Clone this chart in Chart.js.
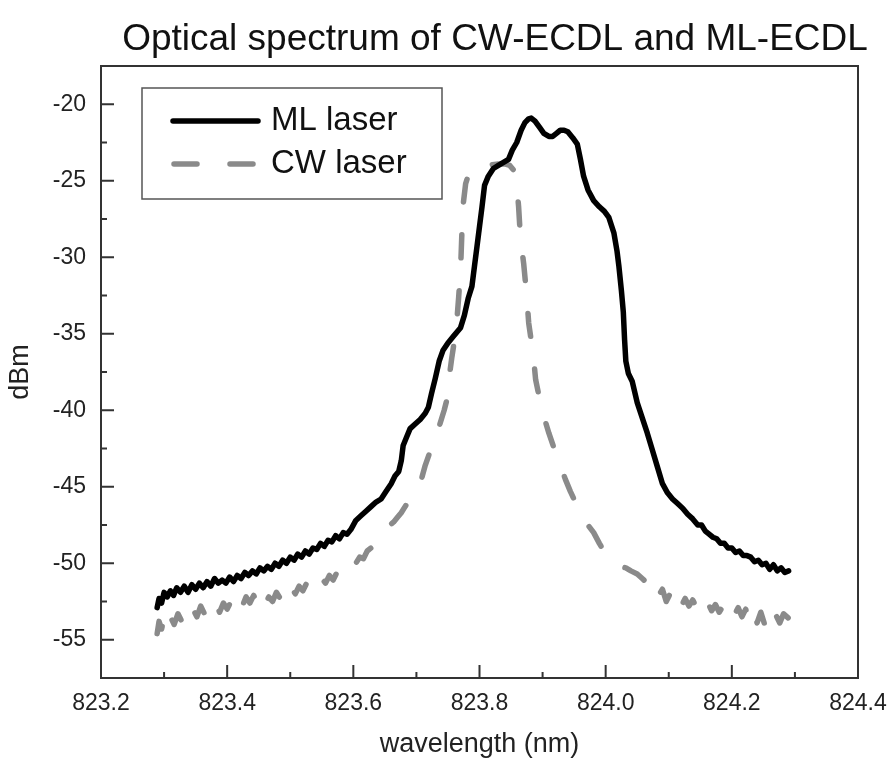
<!DOCTYPE html>
<html><head><meta charset="utf-8">
<script src="https://cdn.jsdelivr.net/npm/chart.js@4.4.1/dist/chart.umd.min.js"></script>
<style>html,body{margin:0;padding:0;background:#fff;} #wrap{width:890px;height:766px;}</style>
</head><body><div id="wrap"><canvas id="c" width="890" height="766"></canvas></div>
<script>
const chartTitle = "Optical spectrum of CW-ECDL and ML-ECDL";
const xAxisTitle = "wavelength (nm)";
const yAxisTitle = "dBm";
const seriesNames = ["ML laser", "CW laser"];
const xTickValues = [823.2, 823.4, 823.6, 823.8, 824.0, 824.2, 824.4];
const yTickValues = [-55, -50, -45, -40, -35, -30, -25, -20];

const mlWavelength = [823.289,823.292,823.296,823.300,823.305,823.310,823.315,823.320,823.326,823.332,823.338,823.344,823.350,823.356,823.362,823.368,823.374,823.380,823.386,823.392,823.398,823.404,823.410,823.416,823.422,823.428,823.434,823.440,823.446,823.452,823.458,823.464,823.470,823.476,823.482,823.488,823.494,823.500,823.506,823.512,823.518,823.524,823.530,823.536,823.542,823.548,823.554,823.560,823.566,823.572,823.578,823.584,823.590,
823.596,823.604,823.612,823.620,823.628,823.636,823.644,823.652,823.660,823.666,823.672,823.676,823.679,823.684,823.690,823.698,823.706,823.714,823.719,823.724,823.730,823.736,823.742,823.750,823.758,823.764,823.770,823.776,823.782,823.788,823.792,823.796,823.800,823.804,823.808,823.814,823.822,823.830,823.838,823.846,823.852,823.859,823.866,823.872,823.878,823.882,823.888,823.895,823.902,823.910,823.916,823.922,823.928,823.934,823.940,823.948,823.955,823.960,823.965,823.972,823.981,823.990,823.998,824.005,824.013,824.018,824.021,824.025,824.028,824.030,824.032,824.036,824.042,824.050,824.058,824.066,824.074,824.082,824.090,824.098,824.106,824.114,824.122,824.130,824.138,824.146,824.152,824.158,824.164,824.170,824.176,824.182,824.188,824.194,824.200,824.206,824.212,824.218,824.224,824.230,824.236,824.242,824.248,824.254,824.260,824.266,824.272,824.278,824.284,824.290];
const mlPower = [-52.9,-52.3,-52.6,-51.9,-52.2,-51.8,-52.1,-51.6,-51.9,-51.5,-51.9,-51.4,-51.7,-51.3,-51.6,-51.2,-51.5,-51.0,-51.3,-51.1,-51.3,-50.9,-51.2,-50.8,-51.0,-50.6,-50.8,-50.5,-50.7,-50.3,-50.5,-50.2,-50.4,-50.0,-50.2,-49.8,-50.0,-49.6,-49.8,-49.4,-49.6,-49.2,-49.4,-49.0,-49.1,-48.7,-48.9,-48.5,-48.6,-48.2,-48.4,-48.0,-48.1,
-47.8,-47.2,-46.9,-46.6,-46.3,-46.0,-45.8,-45.3,-44.8,-44.3,-44.0,-43.3,-42.3,-41.8,-41.2,-40.9,-40.6,-40.2,-39.8,-38.9,-37.9,-36.8,-36.1,-35.6,-35.2,-34.9,-34.6,-33.8,-32.7,-31.9,-30.6,-29.3,-28.0,-26.7,-25.3,-24.7,-24.2,-24.0,-23.8,-23.6,-23.0,-22.5,-21.7,-21.2,-20.95,-20.9,-21.1,-21.5,-21.9,-22.1,-22.1,-21.9,-21.7,-21.7,-21.8,-22.2,-22.6,-23.6,-24.7,-25.6,-26.3,-26.7,-27.0,-27.4,-28.4,-29.6,-30.6,-32.2,-33.6,-35.4,-36.8,-37.6,-38.1,-39.5,-40.5,-41.5,-42.6,-43.7,-44.8,-45.4,-45.8,-46.1,-46.4,-46.8,-47.1,-47.5,-47.5,-47.9,-48.1,-48.3,-48.4,-48.7,-48.7,-49.0,-49.0,-49.3,-49.2,-49.5,-49.5,-49.6,-49.9,-49.8,-50.1,-50.0,-50.4,-50.1,-50.5,-50.3,-50.6,-50.5];

const cwWavelength = [823.289,823.292,823.296,823.300,823.305,823.310,823.316,823.322,823.328,823.334,823.340,823.346,823.352,823.358,823.364,823.370,823.376,823.382,823.388,823.394,823.400,823.406,823.412,823.418,823.424,823.430,823.436,823.442,823.448,823.454,823.460,823.466,823.472,823.478,823.484,823.490,823.496,823.502,823.508,823.514,823.520,823.526,823.532,823.538,823.544,823.550,823.556,823.562,823.568,823.574,823.580,823.586,823.592,823.598,823.604,823.610,823.616,823.622,823.628,823.634,823.640,823.646,823.652,823.658,823.664,823.670,823.676,823.682,823.690,823.696,823.702,823.708,823.714,823.720,823.726,823.732,823.738,823.744,823.749,823.752,823.756,823.760,823.764,823.767,823.770,823.772,823.774,823.778,823.784,823.792,823.800,823.810,823.820,823.830,823.840,823.848,823.854,823.859,823.862,823.865,823.870,823.875,823.878,823.885,823.889,823.899,823.910,823.920,823.928,823.936,823.944,823.952,823.960,823.970,823.981,823.990,823.997,824.005,824.014,824.023,824.032,824.040,824.050,824.058,824.066,824.072,824.078,824.084,824.090,824.096,824.102,824.108,824.114,824.120,824.126,824.132,824.138,824.144,824.150,824.156,824.162,824.168,824.174,824.180,824.186,824.192,824.198,824.204,824.210,824.216,824.222,824.228,824.234,824.240,824.246,824.252,824.258,824.264,824.270,824.276,824.282,824.290];
const cwPower = [-54.6,-53.8,-54.3,-53.6,-54.2,-53.5,-54.0,-53.3,-53.8,-53.2,-53.6,-53.0,-53.5,-52.8,-53.3,-52.8,-53.2,-52.7,-53.2,-52.6,-53.0,-52.5,-52.9,-52.3,-52.8,-52.2,-52.6,-52.1,-52.6,-52.1,-52.7,-52.2,-52.5,-51.9,-52.3,-51.8,-52.2,-51.6,-52.0,-51.5,-51.8,-51.3,-51.6,-51.1,-51.4,-51.0,-51.3,-50.8,-51.1,-50.6,-50.8,-50.4,-50.6,-50.1,-50.0,-49.6,-49.7,-49.2,-49.0,-48.7,-48.6,-48.3,-47.9,-47.5,-47.3,-47.0,-46.7,-46.3,-45.8,-45.5,-45.1,-44.5,-43.6,-42.9,-42.3,-41.6,-40.8,-40.0,-39.2,-37.8,-36.6,-35.5,-34.2,-32.6,-30.8,-28.5,-26.6,-25.2,-24.4,-24.1,-24.0,-24.0,-23.95,-23.9,-23.9,-24.0,-24.3,-25.2,-26.7,-28.8,-30.4,-32.6,-34.3,-36.3,-38.0,-40.0,-41.5,-42.7,-43.6,-44.5,-45.3,-46.0,-46.8,-47.4,-48.0,-48.7,-49.2,-49.6,-49.9,-50.2,-50.3,-50.5,-50.7,-51.0,-51.3,-51.6,-51.3,-52.1,-51.7,-52.5,-52.0,-52.6,-52.2,-52.8,-52.3,-52.8,-52.4,-52.9,-52.5,-53.0,-52.6,-53.1,-52.7,-53.2,-52.8,-53.3,-52.9,-53.4,-52.9,-53.5,-53.0,-53.7,-53.1,-53.9,-53.2,-54.0,-53.3,-53.9,-53.4,-53.9,-53.3,-53.6];

const FONT = "'Liberation Sans', Arial, sans-serif";
const mlColor = "#000000";
const cwColor = "#8a8a8a";
const cwDash = [23, 33];

const toPoints = (xs, ys) => xs.map((x, i) => ({ x: x, y: ys[i] }));

const framePlugin = {
  id: 'framePlugin',
  afterDraw(chart) {
    const ctx = chart.ctx;
    const a = chart.chartArea;
    const xs = chart.scales.x, ys = chart.scales.y;
    ctx.save();
    ctx.strokeStyle = '#333';
    ctx.lineWidth = 2;
    ctx.strokeRect(a.left, a.top, a.right - a.left, a.bottom - a.top);
    ctx.beginPath();
    for (let i = 0; i < xTickValues.length; i++) {
      const px = xs.getPixelForValue(xTickValues[i]);
      ctx.moveTo(px, a.bottom); ctx.lineTo(px, a.bottom - 13);
      if (i < xTickValues.length - 1) {
        const mx = xs.getPixelForValue((xTickValues[i] + xTickValues[i + 1]) / 2);
        ctx.moveTo(mx, a.bottom); ctx.lineTo(mx, a.bottom - 6);
      }
    }
    for (let i = 0; i < yTickValues.length; i++) {
      const py = ys.getPixelForValue(yTickValues[i]);
      ctx.moveTo(a.left, py); ctx.lineTo(a.left + 13, py);
      const my = ys.getPixelForValue(yTickValues[i] + 2.5);
      ctx.moveTo(a.left, my); ctx.lineTo(a.left + 6, my);
    }
    const my0 = ys.getPixelForValue(yTickValues[0] - 2.5);
    ctx.moveTo(a.left, my0); ctx.lineTo(a.left + 6, my0);
    ctx.stroke();

    // title
    ctx.fillStyle = '#111';
    ctx.font = '37px ' + FONT;
    ctx.textAlign = 'center';
    ctx.textBaseline = 'alphabetic';
    ctx.fillText(chartTitle, 495, 50);

    // legend
    const bx = 142, by = 88, bw = 300, bh = 111;
    ctx.fillStyle = '#fff';
    ctx.fillRect(bx, by, bw, bh);
    ctx.strokeStyle = '#555';
    ctx.lineWidth = 1.5;
    ctx.strokeRect(bx, by, bw, bh);
    ctx.lineCap = 'round';
    ctx.lineWidth = 5.5;
    ctx.strokeStyle = mlColor;
    ctx.setLineDash([]);
    ctx.beginPath(); ctx.moveTo(173, 121); ctx.lineTo(258, 121); ctx.stroke();
    ctx.strokeStyle = cwColor;
    ctx.setLineDash(cwDash);
    ctx.beginPath(); ctx.moveTo(174, 164); ctx.lineTo(258, 164); ctx.stroke();
    ctx.setLineDash([]);
    ctx.fillStyle = '#111';
    ctx.font = '33px ' + FONT;
    ctx.textAlign = 'left';
    ctx.textBaseline = 'middle';
    ctx.fillText(seriesNames[0], 271, 121);
    ctx.fillText(seriesNames[1], 271, 164);
    ctx.restore();
  }
};

new Chart(document.getElementById('c'), {
  type: 'line',
  data: {
    datasets: [
      { label: seriesNames[0], data: toPoints(mlWavelength, mlPower), borderColor: mlColor, borderWidth: 5.5,
        pointRadius: 0, tension: 0, borderJoinStyle: 'round', borderCapStyle: 'round', fill: false },
      { label: seriesNames[1], data: toPoints(cwWavelength, cwPower), borderColor: cwColor, borderWidth: 5.5,
        borderDash: cwDash, pointRadius: 0, tension: 0, borderJoinStyle: 'round', borderCapStyle: 'round', fill: false }
    ]
  },
  options: {
    responsive: false,
    animation: false,
    devicePixelRatio: 1,
    layout: { padding: { top: 66, right: 32, left: 0, bottom: 0 } },
    plugins: { legend: { display: false }, title: { display: false }, tooltip: { enabled: false } },
    scales: {
      x: {
        type: 'linear', min: 823.2, max: 824.4,
        afterBuildTicks: s => { s.ticks = xTickValues.map(v => ({ value: v })); },
        afterFit: s => { s.height = 88; s.paddingLeft = 0; s.paddingRight = 0; },
        grid: { display: false, drawTicks: false },
        border: { display: false },
        ticks: { padding: 12, color: '#222', font: { family: FONT, size: 23 }, maxRotation: 0, autoSkip: false,
          callback: v => Number(v).toFixed(1) },
        title: { display: true, text: xAxisTitle, color: '#222', font: { family: FONT, size: 27 }, padding: { top: 0, bottom: 5 } }
      },
      y: {
        type: 'linear', min: -57.5, max: -17.5,
        afterBuildTicks: s => { s.ticks = yTickValues.map(v => ({ value: v })); },
        afterFit: s => { s.width = 101; s.paddingTop = 0; s.paddingBottom = 0; },
        grid: { display: false, drawTicks: false },
        border: { display: false },
        ticks: { padding: 15, color: '#222', font: { family: FONT, size: 23 }, autoSkip: false,
          callback: v => String(v) },
        title: { display: true, text: yAxisTitle, color: '#222', font: { family: FONT, size: 27 }, padding: { top: 4, bottom: 0 } }
      }
    }
  },
  plugins: [framePlugin]
});
</script>
</body></html>
